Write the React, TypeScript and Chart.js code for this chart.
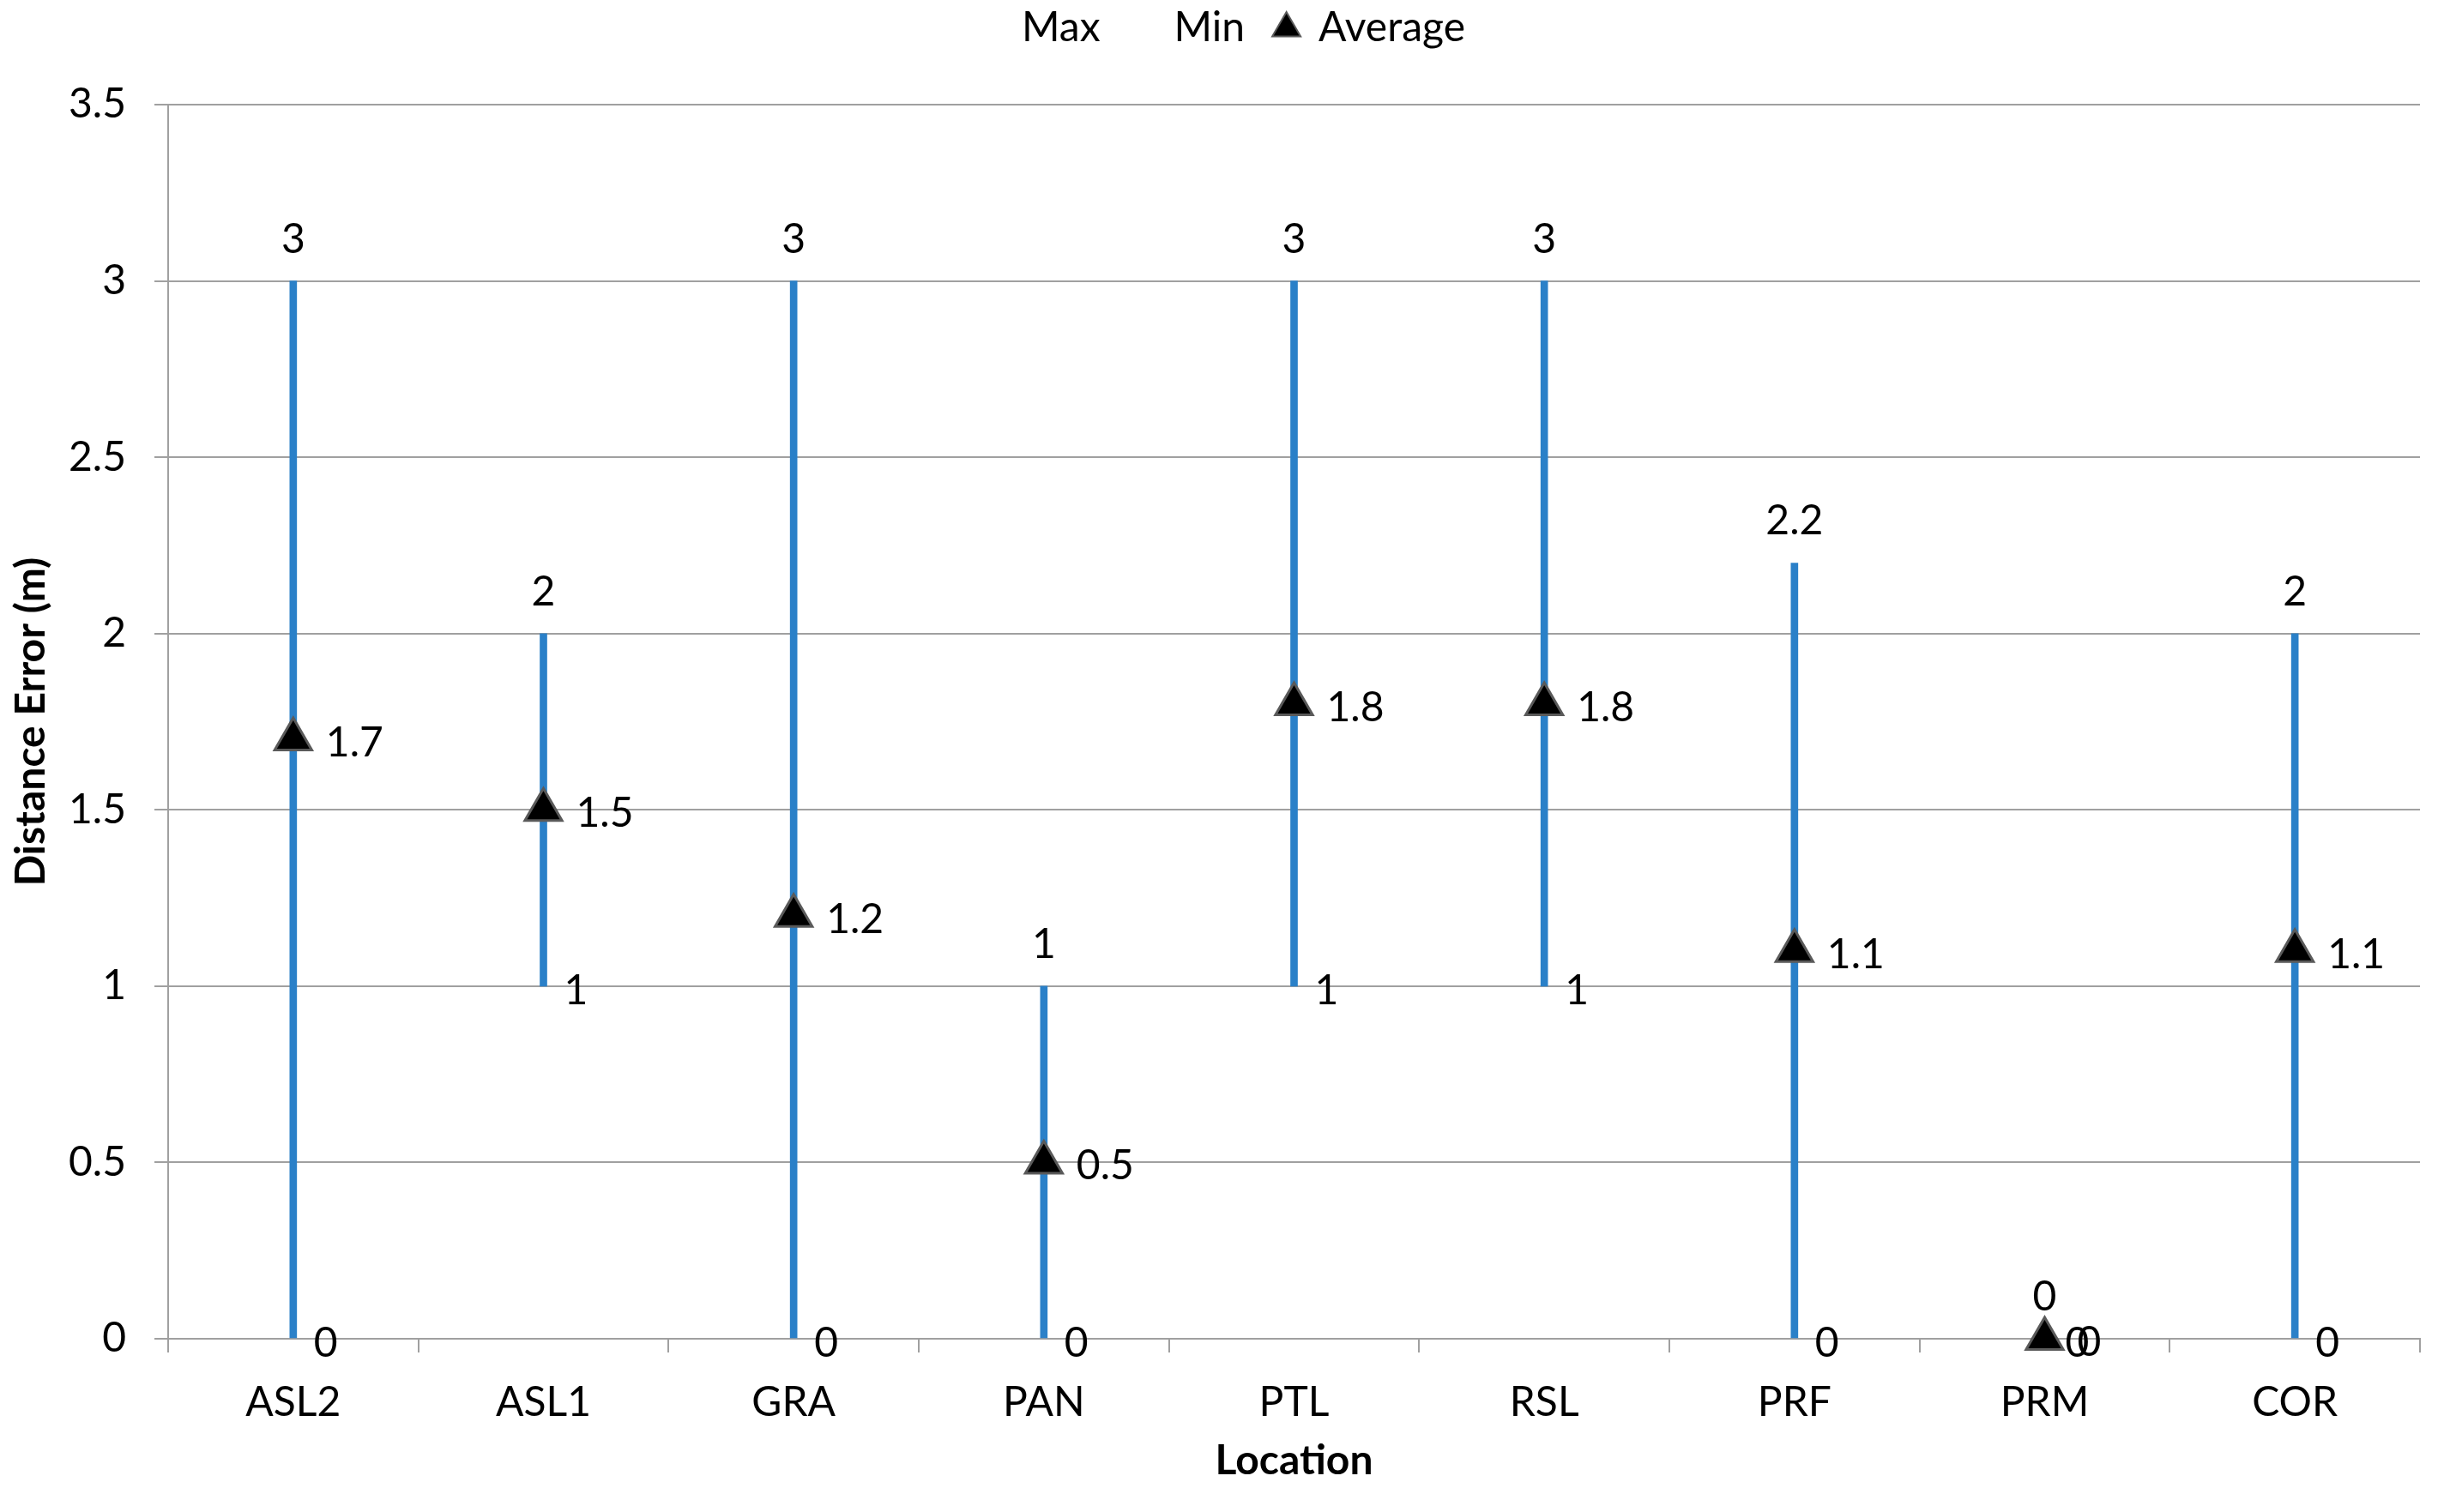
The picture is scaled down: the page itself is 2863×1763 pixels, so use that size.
import React, { useEffect, useRef } from 'react';
import { Chart, registerables } from 'chart.js';

Chart.register(...registerables);

const categories = ['ASL2', 'ASL1', 'GRA', 'PAN', 'PTL', 'RSL', 'PRF', 'PRM', 'COR'];
const maxValues = [3, 2, 3, 1, 3, 3, 2.2, 0, 2];
const minValues = [0, 1, 0, 0, 1, 1, 0, 0, 0];
const avgValues = [1.7, 1.5, 1.2, 0.5, 1.8, 1.8, 1.1, 0, 1.1];

const yMin = 0;
const yMax = 3.5;
const yStep = 0.5;

const FONT = 'Lato';
const FONT_SIZE = 48;
const BLUE = '#2A80C8';
const GRID = '#A0A0A0';

const labelPlugin = {
  id: 'dataLabels',
  afterDatasetsDraw(chart: any) {
    const { ctx } = chart;
    const x = chart.scales.x;
    const y = chart.scales.y;
    ctx.save();
    ctx.font = `${FONT_SIZE}px ${FONT}`;
    ctx.fillStyle = '#000';
    ctx.textBaseline = 'alphabetic';
    categories.forEach((_, i) => {
      const px = x.getPixelForValue(i);
      ctx.textAlign = 'center';
      ctx.fillText(String(maxValues[i]), px, y.getPixelForValue(maxValues[i]) - 33);
      ctx.textAlign = 'left';
      ctx.fillText(String(minValues[i]), px + 24, y.getPixelForValue(minValues[i]) + 21);
      ctx.fillText(String(avgValues[i]), px + 38, y.getPixelForValue(avgValues[i]) + 20);
    });
    ctx.restore();
  },
};

export default function App() {
  const canvasRef = useRef<HTMLCanvasElement | null>(null);

  useEffect(() => {
    if (!canvasRef.current) return;
    const highLow = categories.map((_, i) => [minValues[i], maxValues[i]]);
    const chart = new Chart(canvasRef.current, {
      type: 'bar',
      data: {
        labels: categories,
        datasets: [
          {
            type: 'line',
            label: 'Max',
            data: maxValues,
            showLine: false,
            pointRadius: 0,
            pointHoverRadius: 0,
          } as any,
          {
            type: 'line',
            label: 'Min',
            data: minValues,
            showLine: false,
            pointRadius: 0,
            pointHoverRadius: 0,
          } as any,
          {
            type: 'line',
            label: 'Average',
            data: avgValues,
            showLine: false,
            clip: false,
            pointStyle: 'triangle',
            pointRadius: 25,
            pointBackgroundColor: '#000',
            pointBorderColor: '#5A5A5A',
            pointBorderWidth: 3,
            backgroundColor: '#000',
            borderColor: '#5A5A5A',
          } as any,
          {
            type: 'bar',
            label: 'HighLow',
            data: highLow,
            backgroundColor: BLUE,
            borderWidth: 0,
            barThickness: 8,
          } as any,
        ],
      },
      options: {
        responsive: false,
        animation: false,
        devicePixelRatio: 1,
        layout: { padding: { top: -26, left: 27, right: 42, bottom: 0 } },
        plugins: {
          tooltip: { enabled: false },
          title: {
            display: true,
            text: '',
            weight: 500,
            font: { size: 1, lineHeight: 1 },
            padding: { top: 0, bottom: 54 },
          } as any,
          legend: {
            display: true,
            position: 'top',
            labels: {
              usePointStyle: true,
              boxWidth: 27,
              boxHeight: 27,
              padding: 35,
              color: '#000',
              font: { family: FONT, size: FONT_SIZE },
              filter: (item: any) => item.text !== 'HighLow',
              sort: (a: any, b: any) => a.datasetIndex - b.datasetIndex,
              generateLabels: (c: any) => {
                const items = (Chart.defaults.plugins.legend.labels as any).generateLabels(c);
                return items.map((it: any) => {
                  if (it.text === 'Average') {
                    return { ...it, pointStyle: 'triangle', fillStyle: '#000', strokeStyle: '#5A5A5A', lineWidth: 2 };
                  }
                  return { ...it, fillStyle: 'rgba(0,0,0,0)', strokeStyle: 'rgba(0,0,0,0)', lineWidth: 0 };
                });
              },
            },
          },
        },
        scales: {
          x: {
            ticks: { padding: 30, color: '#000', font: { family: FONT, size: FONT_SIZE } },
            grid: {
              display: true,
              drawOnChartArea: false,
              drawTicks: true,
              tickLength: 16,
              color: GRID,
              lineWidth: 2,
              offset: true,
            },
            border: { display: true, color: GRID, width: 2 },
            title: {
              display: true,
              text: 'Location',
              color: '#000',
              font: { family: FONT, size: FONT_SIZE, weight: 'bold' },
              padding: { top: 0, bottom: 31 },
            },
            afterFit: (s: any) => {
              s.height = 202;
            },
          },
          y: {
            min: yMin,
            max: yMax,
            ticks: {
              stepSize: yStep,
              padding: 33,
              color: '#000',
              font: { family: FONT, size: FONT_SIZE },
              callback: (v: any) => String(Number(v)),
            },
            grid: { color: GRID, lineWidth: 2, tickLength: 16, drawTicks: true },
            border: { display: true, color: GRID, width: 2 },
            title: {
              display: true,
              text: 'Distance Error (m)',
              color: '#000',
              font: { family: FONT, size: FONT_SIZE, weight: 'bold' },
              padding: { top: -19, bottom: 0 },
            },
            afterFit: (s: any) => {
              s.width = 169;
            },
          },
        },
      },
      plugins: [labelPlugin],
    } as any);
    return () => chart.destroy();
  }, []);

  return (
    <div style={{ position: 'fixed', left: 0, top: 0, width: 2863, height: 1763, background: '#fff' }}>
      <canvas ref={canvasRef} width={2863} height={1763} style={{ width: 2863, height: 1763 }} />
    </div>
  );
}
